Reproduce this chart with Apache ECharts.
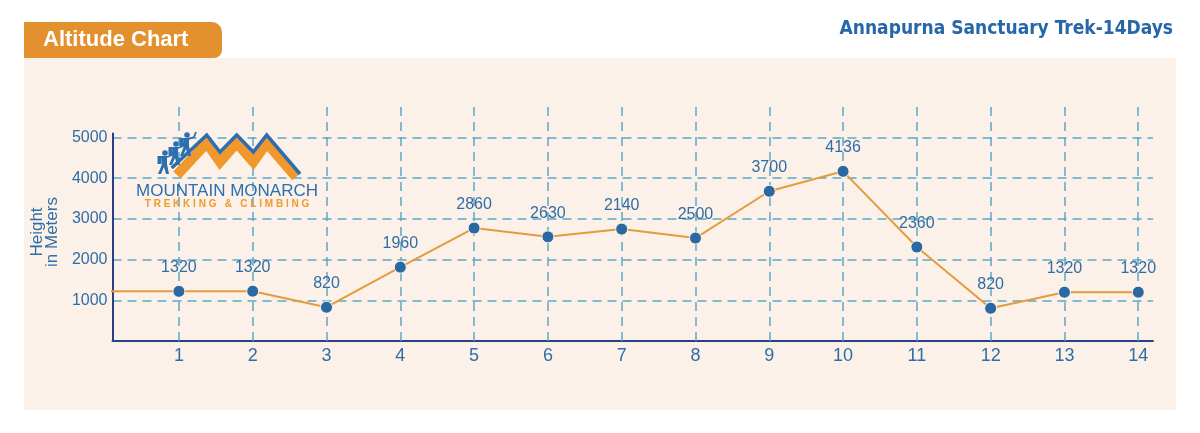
<!DOCTYPE html>
<html><head><meta charset="utf-8">
<script src="https://cdn.jsdelivr.net/npm/echarts@6/dist/echarts.min.js"></script>
<style>html,body{margin:0;padding:0;background:#fff}#c{width:1200px;height:433px}</style>
</head><body><div id="c"></div>
<script>
// ---- data ----
const days = [0, 1, 2, 3, 4, 5, 6, 7, 8, 9, 10, 11, 12, 13, 14];
const altitudes = [1220, 1220, 1225, 830, 1815, 2775, 2560, 2750, 2530, 3680, 4170, 2310, 805, 1200, 1200];
const pointLabels = ['', '1320', '1320', '820', '1960', '2860', '2630', '2140', '2500', '3700', '4136', '2360', '820', '1320', '1320'];
const dayTicks = [1, 2, 3, 4, 5, 6, 7, 8, 9, 10, 11, 12, 13, 14];
const heightTicks = [1000, 2000, 3000, 4000, 5000];
const tabTitle = 'Altitude Chart';
const tripTitle = 'Annapurna Sanctuary Trek-14Days';
const yName = 'Height\nin Meters';
const logoName = 'MOUNTAIN MONARCH';
const logoSub = 'T R E K K I N G   &   C L I M B I N G';

// ---- style ----
const BLUE = '#2f6da6';
const GRID = '#5aa8c8';
const AXIS = '#2a3f86';
const ORANGE = '#e39b3d';
const X_MIN = 0.1, X_MAX = 14.2, Y_MAX = 5800, Y_AXIS_TOP = 5120;
const FONT = '"Liberation Sans", Arial, sans-serif';

const chart = echarts.init(document.getElementById('c'), null, {renderer: 'canvas'});

const seriesData = days.map((d, i) => {
  const item = {value: [d, altitudes[i]]};
  if (!pointLabels[i]) { item.symbol = 'none'; item.label = {show: false}; }
  return item;
});

const dash = {type: [9, 6], color: GRID, width: 1.5};
const markData = heightTicks.map(v => ({yAxis: v}))
  .concat(dayTicks.map(v => ({xAxis: v})))
  .concat([[{coord: [X_MIN, 0], lineStyle: {type: 'solid', color: AXIS, width: 2}}, {coord: [X_MIN, Y_AXIS_TOP]}]]);

const logoBlue = '#2b6fb0', logoOrange = '#f0982c';
function hiker(x, y) {
  return [
    {type: 'circle', z: 100, shape: {cx: x + 2, cy: y, r: 2.8}, style: {fill: logoBlue}},
    {type: 'polygon', z: 100, shape: {points: [[x - 2, y + 3], [x + 4, y + 3], [x + 4, y + 11], [x + 6, y + 21], [x + 3, y + 21], [x + 1, y + 14], [x - 2, y + 21], [x - 5, y + 21], [x - 1, y + 11]]}, style: {fill: logoBlue}},
    {type: 'polyline', z: 100, shape: {points: [[x + 4, y + 4], [x + 9, y + 2], [x + 11, y - 3]]}, style: {stroke: logoBlue, lineWidth: 1.8, fill: null}},
    {type: 'rect', z: 100, shape: {x: x - 5.5, y: y + 3, width: 4, height: 8}, style: {fill: logoBlue}}
  ];
}

chart.setOption({
  animation: false,
  backgroundColor: '#ffffff',
  grid: {left: 112.5, right: 47, top: 105, bottom: 92},
  xAxis: {
    type: 'value', min: X_MIN, max: X_MAX,
    axisLine: {show: true, lineStyle: {color: AXIS, width: 2}},
    axisTick: {show: false},
    splitLine: {show: false},
    axisLabel: {customValues: dayTicks, color: BLUE, fontSize: 18, margin: 6, fontFamily: FONT, formatter: v => String(v)}
  },
  yAxis: {
    type: 'value', min: 0, max: Y_MAX,
    axisLine: {show: false},
    axisTick: {show: false},
    splitLine: {show: false},
    axisLabel: {customValues: heightTicks, color: BLUE, fontSize: 16, margin: 5, fontFamily: FONT, formatter: v => String(v)}
  },
  series: [{
    type: 'line',
    z: 3,
    data: seriesData,
    clip: true,
    symbol: 'circle',
    symbolSize: 12,
    itemStyle: {color: '#2a68a3', borderColor: '#fdf3ea', borderWidth: 1},
    lineStyle: {color: ORANGE, width: 2},
    label: {
      show: true, position: 'top', distance: 9,
      color: BLUE, fontSize: 16, fontFamily: FONT,
      formatter: p => pointLabels[p.dataIndex]
    },
    markLine: {
      silent: true, z: 1, symbol: ['none', 'none'],
      label: {show: false},
      lineStyle: dash,
      data: markData
    }
  }],
  graphic: [
    {type: 'rect', z: -1, shape: {x: 24, y: 58, width: 1152, height: 352}, style: {fill: '#fcf1e8'}},
    {type: 'rect', z: 100, shape: {x: 24, y: 22, width: 198, height: 36, r: [0, 10, 8, 0]}, style: {fill: '#e3902f'}},
    {type: 'text', z: 101, x: 43, y: 40, style: {text: tabTitle, fill: '#ffffff', font: 'bold 22px ' + FONT, verticalAlign: 'middle', align: 'left'}},
    {type: 'text', z: 101, x: 1173, y: 29, style: {text: tripTitle, fill: '#2767a7', font: 'bold 19px "Liberation Sans Narrow", "DejaVu Sans Condensed", "Liberation Sans", sans-serif', verticalAlign: 'middle', align: 'right'}},
    {type: 'text', z: 101, x: 45, y: 232, rotation: Math.PI / 2, style: {text: yName, fill: BLUE, font: '17px ' + FONT, lineHeight: 15, align: 'center', verticalAlign: 'middle'}},
    // logo
    {type: 'polyline', z: 100, shape: {points: [[177, 175], [206.7, 143], [220, 162], [236.7, 143], [253.3, 162], [266.7, 143], [296, 177]]}, style: {stroke: logoOrange, lineWidth: 10, fill: null, lineJoin: 'miter'}},
    {type: 'polyline', z: 101, shape: {points: [[171.7, 168], [206.7, 135], [220, 152], [236.7, 135], [253.3, 152], [266.7, 135], [300, 174]]}, style: {stroke: logoBlue, lineWidth: 3.5, fill: null, lineJoin: 'miter'}},
    ...hiker(163, 153), ...hiker(174, 144), ...hiker(185, 135),
    {type: 'text', z: 101, x: 227, y: 191, style: {text: logoName, fill: logoBlue, font: '17px ' + FONT, align: 'center', verticalAlign: 'middle'}},
    {type: 'text', z: 101, x: 227, y: 204.5, style: {text: logoSub, fill: logoOrange, font: 'bold 10px ' + FONT, align: 'center', verticalAlign: 'middle'}}
  ]
});
</script>
</body></html>
